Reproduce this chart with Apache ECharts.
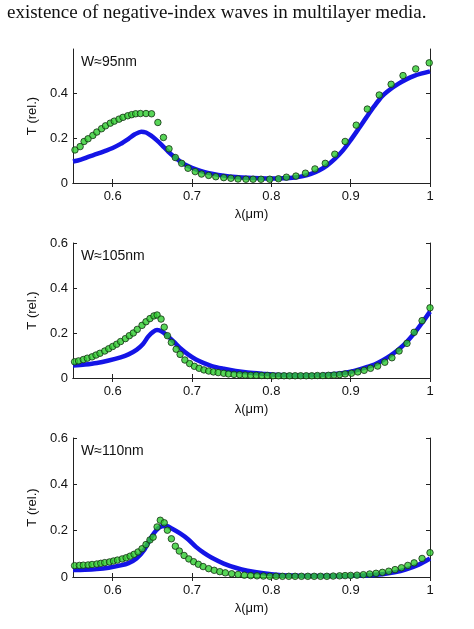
<!DOCTYPE html>
<html><head><meta charset="utf-8">
<script src="https://cdn.jsdelivr.net/npm/echarts@6/dist/echarts.min.js"></script>
<style>html,body{margin:0;padding:0;background:#fff}#c{width:474px;height:629px}</style>
</head><body><div id="c"></div>
<script>
const headline = "existence of negative-index waves in multilayer media.";
const panelLabels = ["W\u224895nm", "W\u2248105nm", "W\u2248110nm"];
const xTicks = [0.6, 0.7, 0.8, 0.9, 1];
const yTicks = [0, 0.2, 0.4, 0.6];

// Panel 1 (W≈95nm)
const meas1 = [[0.5525,0.148],[0.559,0.163],[0.564,0.186],[0.569,0.198],[0.575,0.213],[0.580,0.228],[0.586,0.243],[0.591,0.256],[0.597,0.268],[0.602,0.277],[0.608,0.286],[0.613,0.294],[0.619,0.301],[0.624,0.306],[0.629,0.310],[0.635,0.311],[0.642,0.311],[0.649,0.310],[0.657,0.271],[0.664,0.204],[0.671,0.153],[0.679,0.114],[0.687,0.088],[0.695,0.066],[0.704,0.051],[0.712,0.040],[0.721,0.034],[0.730,0.028],[0.740,0.024],[0.749,0.021],[0.758,0.018],[0.768,0.017],[0.777,0.017],[0.787,0.017],[0.798,0.017],[0.809,0.019],[0.819,0.026],[0.831,0.031],[0.843,0.044],[0.855,0.063],[0.868,0.088],[0.880,0.129],[0.893,0.186],[0.907,0.259],[0.921,0.331],[0.936,0.394],[0.951,0.442],[0.966,0.481],[0.982,0.511],[0.999,0.538]];
const sim1 = [[0.550,0.096],[0.560,0.105],[0.570,0.118],[0.580,0.130],[0.590,0.143],[0.600,0.157],[0.610,0.175],[0.620,0.198],[0.628,0.218],[0.636,0.230],[0.642,0.226],[0.648,0.213],[0.655,0.193],[0.662,0.170],[0.670,0.141],[0.678,0.116],[0.686,0.094],[0.695,0.076],[0.705,0.061],[0.715,0.050],[0.725,0.042],[0.740,0.033],[0.755,0.027],[0.770,0.023],[0.785,0.021],[0.800,0.020],[0.815,0.021],[0.830,0.025],[0.840,0.031],[0.850,0.041],[0.860,0.056],[0.870,0.078],[0.880,0.108],[0.890,0.145],[0.900,0.192],[0.910,0.243],[0.920,0.295],[0.930,0.345],[0.940,0.390],[0.950,0.420],[0.960,0.444],[0.970,0.464],[0.980,0.480],[0.990,0.491],[1.000,0.500]];

// Panel 2 (W≈105nm)
const meas2 = [[0.552,0.072],[0.557,0.076],[0.563,0.082],[0.568,0.088],[0.574,0.094],[0.579,0.102],[0.584,0.110],[0.590,0.120],[0.595,0.130],[0.600,0.140],[0.605,0.150],[0.610,0.162],[0.616,0.175],[0.621,0.188],[0.626,0.200],[0.631,0.216],[0.637,0.234],[0.642,0.250],[0.647,0.264],[0.652,0.276],[0.656,0.280],[0.661,0.262],[0.665,0.226],[0.669,0.188],[0.674,0.158],[0.680,0.128],[0.685,0.105],[0.691,0.080],[0.697,0.064],[0.703,0.052],[0.709,0.043],[0.715,0.036],[0.721,0.031],[0.727,0.027],[0.733,0.024],[0.740,0.021],[0.746,0.018],[0.753,0.016],[0.760,0.015],[0.767,0.013],[0.774,0.012],[0.781,0.012],[0.788,0.011],[0.795,0.011],[0.802,0.010],[0.809,0.010],[0.816,0.010],[0.823,0.010],[0.830,0.010],[0.837,0.010],[0.844,0.010],[0.851,0.010],[0.858,0.011],[0.865,0.011],[0.872,0.012],[0.879,0.013],[0.886,0.015],[0.893,0.018],[0.901,0.021],[0.909,0.027],[0.917,0.034],[0.925,0.043],[0.934,0.053],[0.943,0.070],[0.952,0.090],[0.961,0.120],[0.971,0.154],[0.980,0.203],[0.990,0.255],[1.000,0.312]];
const sim2 = [[0.550,0.055],[0.565,0.060],[0.580,0.067],[0.595,0.078],[0.610,0.092],[0.620,0.105],[0.630,0.125],[0.638,0.150],[0.645,0.185],[0.651,0.205],[0.656,0.213],[0.662,0.207],[0.670,0.185],[0.678,0.158],[0.686,0.130],[0.695,0.105],[0.705,0.082],[0.715,0.066],[0.725,0.053],[0.740,0.041],[0.755,0.031],[0.770,0.024],[0.790,0.018],[0.810,0.013],[0.830,0.011],[0.850,0.012],[0.870,0.015],[0.887,0.020],[0.900,0.028],[0.910,0.037],[0.920,0.048],[0.930,0.060],[0.940,0.078],[0.950,0.100],[0.960,0.126],[0.970,0.158],[0.980,0.198],[0.990,0.245],[1.000,0.295]];

// Panel 3 (W≈110nm)
const meas3 = [[0.552,0.049],[0.558,0.050],[0.563,0.051],[0.569,0.052],[0.574,0.054],[0.580,0.056],[0.585,0.059],[0.590,0.062],[0.596,0.065],[0.601,0.069],[0.606,0.073],[0.612,0.078],[0.617,0.083],[0.622,0.090],[0.627,0.098],[0.632,0.108],[0.637,0.122],[0.642,0.140],[0.647,0.160],[0.651,0.172],[0.656,0.216],[0.660,0.245],[0.665,0.234],[0.669,0.202],[0.674,0.165],[0.679,0.133],[0.684,0.112],[0.690,0.093],[0.696,0.078],[0.702,0.066],[0.708,0.055],[0.714,0.045],[0.721,0.036],[0.728,0.029],[0.735,0.023],[0.742,0.018],[0.750,0.014],[0.758,0.011],[0.766,0.008],[0.774,0.006],[0.782,0.005],[0.790,0.004],[0.798,0.003],[0.806,0.003],[0.814,0.003],[0.822,0.003],[0.830,0.003],[0.838,0.003],[0.846,0.003],[0.854,0.003],[0.862,0.003],[0.870,0.003],[0.878,0.004],[0.886,0.005],[0.893,0.006],[0.900,0.007],[0.908,0.008],[0.916,0.010],[0.924,0.013],[0.932,0.016],[0.940,0.020],[0.948,0.025],[0.956,0.032],[0.964,0.040],[0.972,0.050],[0.980,0.061],[0.990,0.080],[1.000,0.105]];
const sim3 = [[0.550,0.030],[0.565,0.031],[0.580,0.034],[0.595,0.040],[0.610,0.050],[0.620,0.060],[0.630,0.080],[0.640,0.118],[0.648,0.168],[0.655,0.202],[0.662,0.219],[0.668,0.220],[0.675,0.208],[0.685,0.188],[0.695,0.163],[0.705,0.130],[0.715,0.104],[0.725,0.083],[0.740,0.058],[0.755,0.040],[0.770,0.027],[0.790,0.016],[0.810,0.009],[0.830,0.006],[0.850,0.004],[0.880,0.004],[0.900,0.005],[0.920,0.007],[0.940,0.012],[0.955,0.020],[0.970,0.033],[0.985,0.052],[1.000,0.080]];

const measSets = [meas1, meas2, meas3];
const simSets = [sim1, sim2, sim3];

const FONT = "Liberation Sans";
const grids = [
  {left: 73, width: 357, top: 49, height: 134},
  {left: 73, width: 357, top: 243, height: 135},
  {left: 73, width: 357, top: 438, height: 139}
];
const axisLine = {show: true, lineStyle: {color: '#222', width: 1}};
const tick = {inside: true, length: 4, lineStyle: {color: '#222'}};
const fmtNum = v => (Math.abs(v) < 1e-9 ? '0' : String(+v.toFixed(2)));

const xAxis = [], yAxis = [], series = [], titles = [];
grids.forEach((g, i) => {
  xAxis.push({type: 'value', gridIndex: i, min: 0.55, max: 1, position: 'bottom',
    axisLine, splitLine: {show: false},
    axisTick: Object.assign({customValues: xTicks}, tick),
    axisLabel: {customValues: xTicks, formatter: fmtNum, color: '#111', fontFamily: FONT, fontSize: 13, margin: 7},
    name: '\u03bb(\u03bcm)', nameLocation: 'middle', nameGap: 25,
    nameTextStyle: {color: '#111', fontFamily: FONT, fontSize: 13}});
  xAxis.push({type: 'value', gridIndex: i, min: 0.55, max: 1, position: 'top',
    axisLine, splitLine: {show: false},
    axisTick: Object.assign({customValues: xTicks}, tick),
    axisLabel: {show: false}});
  const yt = i === 0 ? yTicks.slice(0, 3) : yTicks;
  yAxis.push({type: 'value', gridIndex: i, min: 0, max: 0.6, position: 'left',
    axisLine, splitLine: {show: false},
    axisTick: Object.assign({customValues: yt}, tick),
    axisLabel: {customValues: yt, formatter: fmtNum, color: '#111', fontFamily: FONT, fontSize: 13, margin: 5},
    name: 'T (rel.)', nameLocation: 'middle', nameGap: 33, nameRotate: 90,
    nameTextStyle: {color: '#111', fontFamily: FONT, fontSize: 13}});
  yAxis.push({type: 'value', gridIndex: i, min: 0, max: 0.6, position: 'right',
    axisLine, splitLine: {show: false},
    axisTick: Object.assign({customValues: yt}, tick),
    axisLabel: {show: false}});
  series.push({type: 'line', xAxisIndex: 2 * i, yAxisIndex: 2 * i, data: simSets[i],
    smooth: 0.3, showSymbol: false, lineStyle: {color: '#1414e6', width: 4.5}, z: 2, animation: false});
  series.push({type: 'scatter', xAxisIndex: 2 * i, yAxisIndex: 2 * i, data: measSets[i],
    symbol: 'circle', symbolSize: 6.5,
    itemStyle: {color: '#2ecc2e', borderColor: '#143014', borderWidth: 1}, z: 3, animation: false});
  titles.push({text: panelLabels[i], left: g.left + 8, top: g.top + 6, padding: 0,
    textStyle: {fontFamily: FONT, fontSize: 14, fontWeight: 'normal', color: '#111'}});
});

const chart = echarts.init(document.getElementById('c'), null, {renderer: 'canvas'});
chart.setOption({
  animation: false,
  backgroundColor: '#fff',
  title: titles,
  grid: grids,
  xAxis, yAxis, series,
  graphic: [{type: 'text', left: 7, top: 4,
    style: {text: headline, font: '19px "Liberation Serif"', fill: '#111'}}]
});
</script></body></html>
